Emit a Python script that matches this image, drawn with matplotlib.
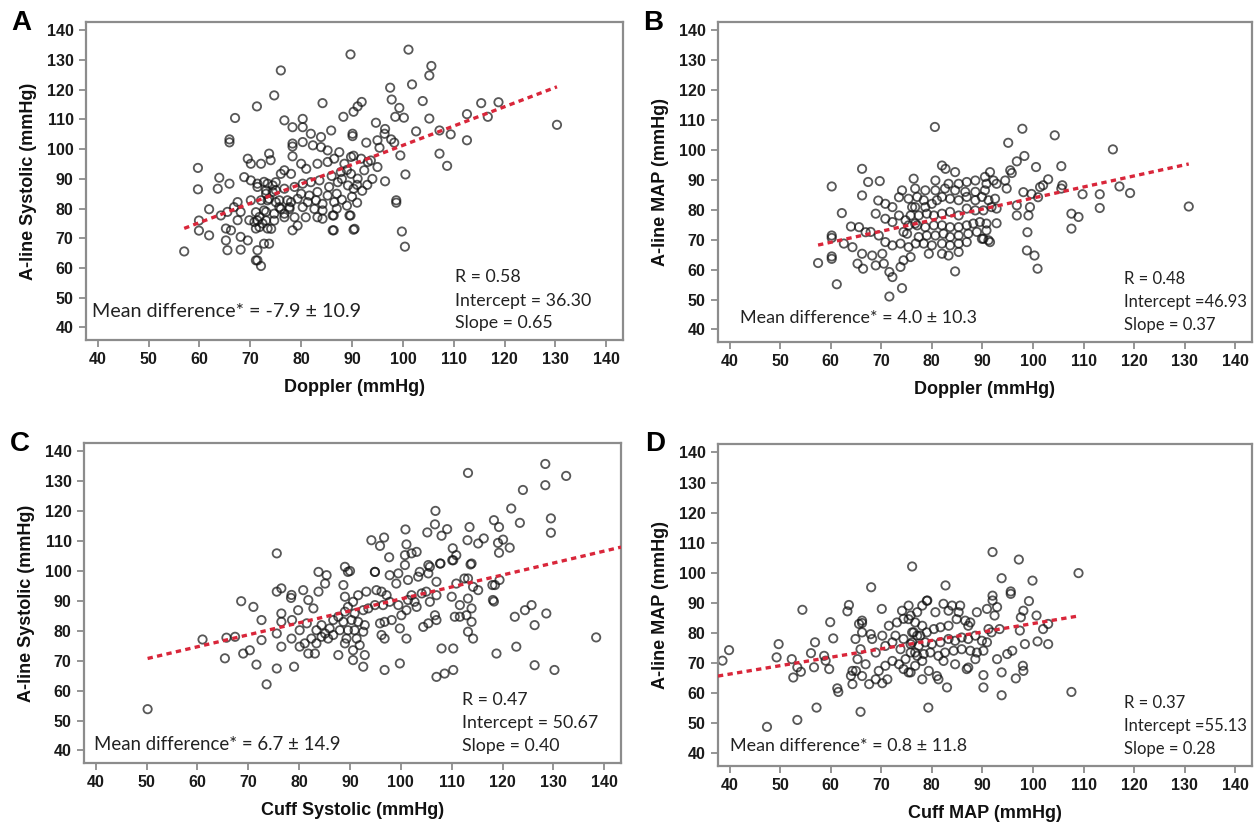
import matplotlib
matplotlib.use("Agg")
import matplotlib.pyplot as plt
import numpy as np

# ---- data (x, y) ----
a_pts = [
    (76.0,126.5),(74.7,118.1),(71.3,114.4),(84.2,115.5),(67.0,110.5),(65.9,103.3),(65.9,102.3),(76.7,109.7),
    (78.3,107.4),(80.3,110.2),(80.3,107.4),(81.9,105.2),(83.9,104.1),(78.3,101.9),(78.3,100.9),
    (59.7,93.7),(63.9,90.4),(59.7,86.5),(63.6,86.7),(65.9,88.4),(69.5,96.8),(70.1,95.1),(72.1,95.1),
    (73.7,98.5),(74.0,96.3),(61.9,79.8),(59.9,76.0),(59.9,72.6),(61.9,71.0),(57.0,65.6),
    (65.2,69.3),(65.5,66.0),(68.1,70.5),(68.1,66.2),(71.4,66.0),(71.4,62.6),(72.1,60.7),(73.7,68.2),
    (69.5,69.3),(86.2,77.7),(86.2,72.7),(78.3,72.7),(79.3,74.3),
    (68.8,90.6),(70.1,89.5),(71.4,88.4),(72.7,89.0),(74.4,87.8),(75.0,86.2),(73.1,85.0),(73.4,82.8),
    (75.0,82.2),(75.7,80.5),(74.7,78.3),(73.1,78.9),(71.8,77.2),(70.8,75.5),(72.4,75.0),(73.4,73.3),
    (71.1,73.3),(69.8,76.1),(67.5,82.2),(66.8,80.5),(68.1,78.9),(65.5,78.9),(64.2,77.7),(65.2,73.3),
    (66.2,72.7),(67.5,76.1),(77.3,82.8),(76.7,78.3),(77.7,80.5),
    (85.9,106.3),(80.3,102.4),(82.3,101.3),(83.9,100.7),(85.2,99.6),(87.5,99.0),(78.3,97.6),(80.0,95.1),
    (81.0,93.4),(76.7,92.9),(76.0,91.7),(78.0,91.7),(83.2,95.1),(85.2,95.7),(86.5,96.8),(88.5,95.1),
    (89.8,97.4),(91.8,96.8),(93.1,95.7),(87.8,92.3),(89.8,91.7),(91.1,90.1),(92.4,92.9),(73.4,88.4),
    (75.0,88.9),(71.4,87.3),(73.1,86.1),(74.4,85.6),(76.7,86.7),(78.7,87.3),(80.3,88.4),(81.9,88.9),
    (83.6,89.5),(85.5,87.3),(87.2,88.9),(89.2,87.8),(80.0,85.0),(81.6,84.4),(83.2,85.6),(85.2,84.4),
    (70.1,82.8),(72.1,82.8),(73.7,83.3),(75.7,82.8),(78.0,82.2),(79.3,83.3),(81.3,82.2),(82.9,82.8),
    (84.2,81.6),(86.5,82.2),(71.1,78.8),(72.7,79.4),(76.0,79.9),(77.7,79.9),(80.3,80.5),(82.6,79.9),
    (84.2,79.4),(89.5,77.7),(71.4,76.0),(73.1,76.0),(74.7,76.0),(76.7,77.1),(78.7,77.1),(80.9,77.1),
    (83.2,77.1),(84.2,76.6),(71.8,73.8),(74.1,73.2),(90.5,73.2),(72.7,68.2),(71.1,62.6),
    (89.7,131.9),(101.1,133.5),(105.6,128.0),(105.2,124.8),(101.8,121.8),(97.5,120.7),(97.8,116.7),
    (103.9,116.2),(99.3,113.9),(98.5,110.9),(100.2,110.6),(115.4,115.5),(118.8,115.8),(112.6,111.8),
    (116.7,110.9),(105.2,110.3),(91.9,115.9),(91.1,114.4),(90.3,112.6),(88.3,110.9),(94.7,108.9),
    (96.5,106.8),(96.4,105.2),(102.6,106.0),(107.2,106.3),(109.4,105.0),(112.6,103.0),(130.3,108.2),
    (90.1,105.2),(90.1,104.4),(92.8,102.2),(95.0,103.0),(97.7,103.3),(98.3,102.2),(95.4,100.5),
    (99.5,97.9),(107.2,98.5),(108.7,94.4),(90.3,97.8),(93.7,96.2),(95.0,94.0),(100.5,91.5),(96.5,89.2),
    (90.3,86.7),(98.7,82.8),(98.7,82.0),(89.7,77.7),(86.4,77.7),(86.4,72.7),(90.3,72.9),(99.8,72.3),
    (100.4,67.2),(87.0,85.0),(88.0,83.0),(89.0,81.0),(90.0,84.0),(91.0,88.0),(92.0,86.0),(88.0,90.0),
    (86.0,91.0),(89.0,93.0),(91.0,82.0),(93.0,88.0),(94.0,90.0),(87.0,80.0),
]

b_pts = [
    (66.2,93.7),(60.2,87.8),(67.4,89.3),(69.7,89.6),(66.2,84.8),(76.4,90.4),(62.2,78.9),(69.4,83.1),
    (70.8,82.0),(72.2,80.9),(73.5,84.2),(74.1,86.5),(60.2,71.4),(60.2,70.6),(64.0,74.4),(65.6,74.2),
    (66.9,72.5),(62.6,68.7),(64.3,67.5),(60.2,64.4),(60.2,63.6),(57.5,62.2),(66.2,65.3),(68.2,64.7),
    (70.2,65.3),(65.3,62.0),(66.4,60.3),(68.9,61.4),(70.5,62.0),(71.6,59.2),(72.2,57.5),(61.2,55.1),
    (74.1,53.8),(71.6,51.0),(76.8,68.7),
    (74.4,72.6),(75.1,72.0),(70.8,77.0),(72.2,75.9),(73.5,78.1),(74.8,76.5),(69.5,71.4),(70.8,69.2),
    (72.2,68.1),(73.8,68.7),(75.4,67.5),(67.9,72.6),(68.9,78.7),(76.1,80.9),(76.7,75.4),(74.4,63.1),
    (73.8,60.9),(75.8,64.2),
    (80.6,107.7),(97.9,107.1),(104.3,104.9),(95.1,102.4),(115.8,100.2),(98.3,98.0),(96.8,96.2),
    (100.6,94.3),(105.6,94.6),(95.5,93.2),(95.8,92.3),(103.0,90.2),(102.0,88.2),(101.4,87.6),
    (105.8,88.2),(105.6,87.1),(117.1,87.8),(119.2,85.6),(113.2,85.2),(113.2,80.6),(109.8,85.2),
    (107.6,78.7),(109.0,77.6),(107.6,73.7),(130.8,81.1),(98.1,85.9),(99.7,85.3),(101.0,84.2),
    (96.8,81.5),(99.4,80.9),(99.1,78.1),(96.8,78.1),(98.9,72.5),(98.8,66.4),(100.3,64.7),(100.9,60.3),
    (84.6,59.4),(92.8,75.5),(91.2,69.8),(90.2,70.3),(82.0,94.8),(82.7,93.7),(84.6,92.6),
    (79.4,65.3),(82.0,65.3),(83.3,64.7),(85.3,65.9),
    (75.4,83.7),(77.1,84.3),(78.4,83.2),(76.7,80.9),(78.7,80.9),(80.0,82.0),(81.0,83.2),(82.0,84.3),
    (83.6,83.7),(85.3,83.2),(86.9,84.3),(88.6,83.2),(89.9,84.3),(91.2,83.2),(92.5,83.7),(75.8,78.1),
    (77.4,78.1),(79.0,78.7),(80.4,78.1),(82.0,78.7),(83.6,79.3),(85.3,78.1),(86.9,80.4),(88.6,79.8),
    (90.2,79.8),(91.8,80.9),(92.8,80.4),(75.4,74.8),(77.1,74.8),(78.7,74.2),(80.4,74.8),(82.0,74.8),
    (83.6,74.2),(85.3,74.2),(86.9,74.8),(88.2,75.4),(89.5,75.9),(90.8,75.4),(77.4,70.9),(79.0,71.4),
    (80.7,71.4),(82.3,72.0),(83.6,70.9),(85.3,71.4),(87.2,72.0),(88.9,72.6),(90.8,73.1),(78.4,68.7),
    (80.0,68.1),(82.0,68.7),(83.6,68.1),(85.3,68.7),(86.9,69.2),(89.9,70.3),(91.5,69.2),
    (80.7,89.8),(83.3,88.7),(85.3,88.7),(86.9,89.3),(88.6,89.8),(90.5,91.0),(91.5,92.6),(90.8,88.7),
    (92.2,89.8),(92.8,88.7),(94.5,89.8),(94.8,87.1),(90.5,86.5),(88.6,86.0),(86.6,86.0),(84.6,86.5),
    (82.6,87.1),(80.7,86.5),(78.7,86.5),(76.7,87.1),
]

c_pts = [
    (75.6,105.9),(50.2,53.8),
    (61.0,77.1),(65.4,70.8),(65.7,77.7),(67.4,78.0),(68.6,89.9),(71.0,88.0),(72.6,83.6),(69.0,72.4),
    (70.3,73.5),(72.6,76.9),(71.6,68.7),(73.6,62.1),(75.6,67.4),(79.0,68.0),(76.5,74.7),(75.6,93.1),
    (76.5,94.2),(76.5,85.8),(76.5,83.0),(75.6,79.1),(78.5,92.0),(78.4,91.0),(80.8,93.6),(83.8,99.7),
    (85.4,98.6),(85.1,95.8),(83.8,93.1),(78.6,83.6),(79.8,86.9),(81.8,90.3),(82.8,87.5),
    (78.5,77.4),(80.1,80.2),(81.5,82.5),(80.1,74.7),(81.1,75.8),(81.8,72.4),(83.1,72.4),(83.4,75.8),
    (82.4,77.4),(83.4,80.2),(84.4,81.9),(84.4,78.0),(85.1,79.1),(86.0,80.8),(85.7,77.4),(86.7,83.6),
    (87.7,84.7),(88.7,83.0),(88.0,80.2),(86.7,78.6),(89.0,86.4),(89.6,88.0),(90.6,89.7),(91.6,91.9),
    (93.2,93.1),(95.2,93.6),(96.2,93.1),(97.2,91.9),(97.8,89.7),(96.5,88.6),(94.9,88.6),(93.6,87.5),
    (92.6,86.9),(90.9,85.8),(90.3,83.6),(91.6,83.0),(92.9,81.9),(92.6,79.7),(90.9,80.2),(91.3,77.4),
    (89.6,80.2),(89.3,77.4),(89.0,75.8),(90.6,73.5),(91.9,75.2),(87.7,71.9),(90.6,70.2),(92.9,71.9),
    (92.6,68.0),(89.0,91.4),(88.7,95.3),(89.0,101.4),(89.6,99.7),(94.9,99.7),(97.8,98.6),(99.5,99.2),
    (99.1,95.8),(100.8,102.0),(101.4,97.0),(103.4,98.1),(103.7,99.7),(105.4,99.2),(105.4,102.0),
    (107.0,96.4),(107.7,102.5),(110.3,103.6),(113.9,102.5),(113.2,97.5),(110.9,95.8),(110.0,91.4),
    (111.6,88.6),(113.2,90.8),(114.2,94.7),(115.2,93.6),(118.5,95.3),(119.4,97.0),(118.1,90.3),
    (113.9,87.5),(112.9,85.2),(113.9,83.0),(113.2,79.7),(114.2,77.4),(111.6,84.7),(110.6,84.7),
    (107.0,83.6),(106.7,85.2),(104.4,81.3),(105.4,82.5),(105.7,89.7),(105.0,93.1),(107.0,91.9),
    (103.1,88.0),(101.1,86.9),(100.1,85.2),(99.8,80.8),(101.1,77.4),(98.2,83.6),(96.8,83.0),
    (95.9,82.5),(96.2,78.6),(96.8,77.4),(99.5,88.6),(102.1,91.9),(104.1,92.5),(102.7,89.7),
    (101.4,90.3),(108.0,74.1),(110.3,74.1),(107.0,64.6),(108.6,65.7),(110.3,66.9),(96.8,66.9),
    (99.8,69.1),(122.4,84.7),(124.4,86.9),(125.7,88.6),(128.6,85.8),(126.3,81.9),(122.7,74.7),
    (118.8,72.4),(126.3,68.5),(130.2,66.9),(138.4,77.8),
    (113.2,132.8),(128.4,135.8),(128.4,128.7),(132.5,131.8),(124.0,127.1),(121.7,120.9),(123.4,116.1),
    (118.3,117.0),(119.3,114.7),(120.1,110.5),(119.1,109.4),(129.5,117.6),(129.5,112.8),(121.4,107.8),
    (119.3,106.1),(113.5,114.7),(113.1,110.3),(115.2,109.2),(116.3,110.9),(113.7,102.2),(106.8,120.1),
    (106.7,115.6),(109.1,114.0),(108.0,111.8),(105.2,112.9),(100.9,113.9),(110.2,107.6),(110.9,105.3),
    (110.1,103.6),(107.8,102.5),(101.1,108.9),(102.1,105.9),(103.1,106.4),(100.8,105.3),(94.2,110.3),
    (95.9,108.4),(96.7,111.2),(97.7,104.6),(105.7,101.4),(94.9,99.7),(90.0,100.0),(112.5,97.5),
    (118.0,95.3),(118.3,89.8),
]

d_pts = [
    (76.1,102.1),(68.0,95.2),(54.4,87.7),(63.6,89.3),(63.3,87.2),(70.1,88.0),(59.9,83.6),(66.2,84.1),
    (66.2,83.3),(39.9,74.3),(38.6,70.8),(49.7,76.3),(49.3,71.9),(52.3,71.3),(53.4,68.6),(54.1,67.1),
    (52.6,65.2),(56.1,73.3),(56.9,76.9),(56.7,68.6),(58.7,72.4),(59.0,70.8),(59.7,68.0),(60.5,78.2),
    (61.3,61.6),(61.5,60.4),(57.2,55.2),(53.4,51.1),(47.4,48.8),(65.9,53.8),(64.3,67.4),(64.0,65.8),
    (65.0,67.4),(64.3,63.0),(74.1,87.4),(75.4,89.1),(75.8,85.8),(74.4,84.7),
    (92.0,106.9),(97.2,104.4),(109.0,99.9),(93.8,98.2),(99.9,97.4),(82.7,95.8),(95.6,93.8),(95.6,93.0),
    (92.0,92.4),(92.0,90.8),(99.2,90.6),(98.1,87.4),(100.7,85.8),(97.6,85.2),(92.9,88.6),(90.9,88.0),
    (88.9,86.9),(92.4,85.8),(79.1,90.8),(82.3,89.7),(84.0,89.1),(85.6,89.1),(103.0,83.0),(102.0,81.3),
    (97.4,80.8),(93.4,81.3),(91.8,80.2),(91.2,81.3),(98.4,76.3),(100.9,77.2),(103.0,76.3),(92.9,71.3),
    (94.9,73.0),(95.9,74.1),(93.8,66.9),(90.2,66.0),(90.2,61.9),(93.8,59.3),(96.6,64.9),(98.0,69.1),
    (98.1,67.4),(107.6,60.4),(83.0,61.9),(79.3,55.2),
    (75.4,84.6),(76.7,83.5),(78.1,82.4),(76.4,80.2),(77.7,79.1),(79.0,80.2),(80.4,81.3),(81.7,81.9),
    (83.3,82.4),(84.9,84.6),(86.6,84.1),(87.2,82.4),(87.6,83.5),(76.1,76.9),(77.4,75.7),(78.7,76.9),
    (80.0,76.3),(81.7,76.9),(83.3,78.0),(84.6,77.4),(85.9,78.5),(87.2,78.0),(88.6,79.1),(89.9,77.4),
    (90.9,76.9),(75.8,73.5),(77.1,72.4),(78.4,73.0),(79.7,73.5),(81.3,72.4),(82.6,73.5),(84.3,74.1),
    (85.9,74.6),(87.6,74.1),(88.9,73.5),(90.2,74.1),(76.7,69.1),(78.1,70.7),(79.4,67.4),(81.0,65.7),
    (81.3,64.6),(78.1,64.6),(82.3,70.7),(84.6,69.6),(86.9,68.0),(87.2,68.5),(88.6,71.3),(75.4,66.9),
    (80.7,86.9),(79.0,90.7),(83.3,87.4),(85.3,86.9),(77.1,86.9),(78.1,89.1),
    (64.9,78.0),(65.9,74.6),(67.9,79.6),(68.2,78.0),(68.9,73.5),(65.3,71.3),(66.9,69.6),(66.2,65.7),
    (67.6,63.0),(68.9,64.6),(70.2,63.3),(71.2,64.6),(69.5,67.4),(70.8,69.1),(72.2,70.7),(73.5,69.6),
    (74.4,68.0),(75.8,66.9),(74.8,71.3),(76.7,73.5),(75.8,76.3),(74.4,78.0),(72.8,79.1),(72.2,76.9),
    (70.8,75.7),(70.2,79.1),(71.5,82.4),(73.1,83.5),(76.1,80.2),(77.1,79.1),(73.8,74.6),(66.2,80.2),
    (65.6,83.0),
]

x_labels = ["Doppler (mmHg)", "Doppler (mmHg)", "Cuff Systolic (mmHg)", "Cuff MAP (mmHg)"]
y_labels = ["A-line Systolic (mmHg)", "A-line MAP (mmHg)", "A-line Systolic (mmHg)", "A-line MAP (mmHg)"]
letters = ["A", "B", "C", "D"]
r_vals = ["0.58", "0.48", "0.47", "0.37"]
intercepts = [36.30, 46.93, 50.67, 55.13]
slopes = [0.65, 0.37, 0.40, 0.28]
mean_diff = ["-7.9 \u00b1 10.9", "4.0 \u00b1 10.3", "6.7 \u00b1 14.9", "0.8 \u00b1 11.8"]
icpt_fmt = ["Intercept = %.2f", "Intercept =%.2f", "Intercept = %.2f", "Intercept =%.2f"]
ticks = np.arange(40, 141, 10)

# ---- layout / style ----
XLIM = (37.7, 143.3)
YLIM = (35.8, 142.8)
boxes = [
    [0.0684, 0.5889, 0.4269, 0.3845],
    [0.5707, 0.5865, 0.4245, 0.3869],
    [0.0668, 0.0774, 0.4269, 0.3869],
    [0.5707, 0.0738, 0.4245, 0.3893],
]
letter_pos = [(0.017, 0.972), (0.519, 0.972), (0.016, 0.463), (0.521, 0.463)]
# line span: 'data' -> from min to max x, 'left'/'right' -> to axis edge
line_span = [("data", "data"), ("data", "data"), ("data", "right"), ("left", "data")]
md_pos = [(0.011, 0.088), (0.041, 0.075), (0.019, 0.059), (0.022, 0.062)]
md_size = [14.2, 12.9, 13.4, 12.9]
st_x = [0.687, 0.760, 0.704, 0.760]
st_size = [12.8, 12.0, 12.8, 12.0]

num_font = "Liberation Sans"
ann_font = "Lato"
spine_col = "#8c8c8c"

fig = plt.figure(figsize=(12.58, 8.27), dpi=100)

for i in range(4):
    pts = np.array([a_pts, b_pts, c_pts, d_pts][i])
    ax = fig.add_axes(boxes[i])
    ax.scatter(pts[:, 0], pts[:, 1], s=36, facecolors="none", edgecolors="#111111",
               linewidths=1.3, alpha=0.7, zorder=2)

    lo = XLIM[0] if line_span[i][0] == "left" else pts[:, 0].min()
    hi = XLIM[1] if line_span[i][1] == "right" else pts[:, 0].max()
    lx = np.array([lo, hi])
    ax.plot(lx, intercepts[i] + slopes[i] * lx, color="#d9263a", lw=2.4,
            dashes=(1.6, 1.3), zorder=3)

    ax.set_xlim(XLIM)
    ax.set_ylim(YLIM)
    ax.set_xticks(ticks)
    ax.set_yticks(ticks)
    for s in ax.spines.values():
        s.set_color(spine_col)
        s.set_linewidth(1.6)
    ax.tick_params(direction="out", length=5, width=1.3, color=spine_col,
                   labelcolor="#1a1a1a", pad=4)
    for lab in ax.get_xticklabels() + ax.get_yticklabels():
        lab.set_fontfamily(num_font)
        lab.set_fontweight("bold")
        lab.set_fontsize(11.5)

    ax.set_xlabel(x_labels[i], fontfamily=num_font, fontweight="bold", fontsize=13,
                  labelpad=8, color="#111111")
    ax.set_ylabel(y_labels[i], fontfamily=num_font, fontweight="bold", fontsize=13,
                  labelpad=7, color="#111111")

    ax.text(md_pos[i][0], md_pos[i][1], "Mean difference* = " + mean_diff[i],
            transform=ax.transAxes, fontfamily=ann_font, fontsize=md_size[i],
            va="center", ha="left", color="#222222")
    ax.text(st_x[i], 0.197, "R = " + r_vals[i], transform=ax.transAxes,
            fontfamily=ann_font, fontsize=st_size[i], va="center", color="#222222")
    ax.text(st_x[i], 0.124, icpt_fmt[i] % intercepts[i], transform=ax.transAxes,
            fontfamily=ann_font, fontsize=st_size[i], va="center", color="#222222")
    ax.text(st_x[i], 0.053, "Slope = %.2f" % slopes[i], transform=ax.transAxes,
            fontfamily=ann_font, fontsize=st_size[i], va="center", color="#222222")

    fig.text(letter_pos[i][0], letter_pos[i][1], letters[i], fontfamily=num_font,
             fontweight="bold", fontsize=20, ha="center", va="center")

fig.savefig("out.png", dpi=100)
